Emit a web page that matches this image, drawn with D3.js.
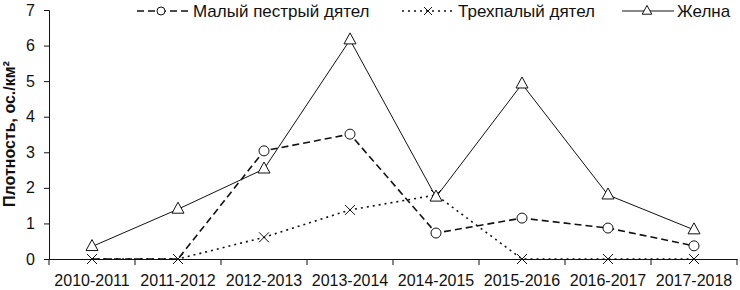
<!DOCTYPE html>
<html>
<head>
<meta charset="utf-8">
<script src="https://cdn.jsdelivr.net/npm/d3@7"></script>
<style>
  body { margin: 0; background: #fff; }
  text { font-family: "Liberation Sans", Arial, sans-serif; fill: #111; }
</style>
</head>
<body>
<script>
'use strict';

// seasons on the x axis
const seasons = ["2010-2011", "2011-2012", "2012-2013", "2013-2014",
                 "2014-2015", "2015-2016", "2016-2017", "2017-2018"];
// density values
const malyi = [0, 0, 3.04, 3.51, 0.73, 1.15, 0.87, 0.37];
const trehpalyi = [0, 0, 0.61, 1.38, 1.8, 0, 0, 0];
const zhelna = [0.35, 1.40, 2.53, 6.16, 1.74, 4.92, 1.80, 0.82];
const yTicks = [0, 1, 2, 3, 4, 5, 6, 7];

const seriesNames = ["Малый пестрый дятел", "Трехпалый дятел", "Желна"];

const width = 740, height = 290;
const margin = {top: 10, right: 3, bottom: 31, left: 49};

const svg = d3.select("body").append("svg")
  .attr("width", width)
  .attr("height", height);

const x = d3.scaleBand()
  .domain(seasons)
  .range([margin.left, width - margin.right])
  .padding(0);

const y = d3.scaleLinear()
  .domain([0, 7])
  .range([height - margin.bottom, margin.top]);

const cx = (d) => x(d) + x.bandwidth() / 2;

// y axis
const yAxis = svg.append("g")
  .attr("transform", "translate(" + margin.left + ",0)")
  .call(d3.axisLeft(y).tickValues(yTicks).tickSize(5).tickPadding(9).tickFormat(d3.format("d")));
yAxis.selectAll("text").style("font-size", "16px");

// x axis: labels centred, ticks on band edges
const xAxis = svg.append("g")
  .attr("transform", "translate(0," + y(0) + ")")
  .call(d3.axisBottom(x).tickSize(0).tickPadding(16));
xAxis.selectAll("text").style("font-size", "16px");

xAxis.selectAll(".edge")
  .data(seasons.map((d) => x(d)).concat([x(seasons[seasons.length - 1]) + x.bandwidth()]))
  .enter().append("line")
  .attr("class", "edge")
  .attr("x1", (d) => d).attr("x2", (d) => d)
  .attr("y1", 0).attr("y2", 6)
  .style("stroke", "#111");

svg.selectAll(".domain, .tick line").style("stroke", "#111");

// y axis title
svg.append("text")
  .attr("transform", "rotate(-90)")
  .attr("x", -134)
  .attr("y", 15)
  .style("text-anchor", "middle")
  .style("font-size", "16px")
  .style("font-weight", "bold")
  .text("Плотность, ос./км²");

const line = d3.line()
  .x((d, i) => cx(seasons[i]))
  .y((d) => y(d));

const styles = [
  {values: malyi, dash: "7,4", sw: 1.6, marker: "circle"},
  {values: trehpalyi, dash: "2,4", sw: 1.6, marker: "cross"},
  {values: zhelna, dash: null, sw: 1, marker: "triangle"}
];

function drawMarker(g, type, px, py, k) {
  k = k || 1;
  if (type === "circle") {
    g.append("circle")
      .attr("cx", px).attr("cy", py).attr("r", 5 * k)
      .style("fill", "#fff").style("stroke", "#111").style("stroke-width", 1);
  } else if (type === "cross") {
    const s = 5 * k;
    g.append("path")
      .attr("d", "M" + (px - s) + "," + (py - s) + "L" + (px + s) + "," + (py + s) +
                 "M" + (px - s) + "," + (py + s) + "L" + (px + s) + "," + (py - s))
      .style("stroke", "#111").style("stroke-width", 1).style("fill", "none");
  } else {
    g.append("path")
      .attr("d", "M" + px + "," + (py - 7 * k) + "L" + (px + 6 * k) + "," + (py + 4 * k) +
                 "L" + (px - 6 * k) + "," + (py + 4 * k) + "Z")
      .style("fill", "#fff").style("stroke", "#111").style("stroke-width", 1);
  }
}

// lines first, then markers on top
styles.forEach((s) => {
  svg.append("path")
    .datum(s.values)
    .attr("d", line)
    .style("fill", "none")
    .style("stroke", "#111")
    .style("stroke-width", s.sw)
    .style("stroke-dasharray", s.dash);
});
styles.forEach((s) => {
  const g = svg.append("g");
  s.values.forEach((v, i) => {
    // zero circles sit under the crosses in the original, so skip them
    if (s.marker === "circle" && v === 0) return;
    drawMarker(g, s.marker, cx(seasons[i]), y(v));
  });
});

// legend
const legendPos = [
  {x1: 137, x2: 190, mx: 161, tx: 193},
  {x1: 402, x2: 454, mx: 428, tx: 458},
  {x1: 622, x2: 674, mx: 647, tx: 677}
];
const legend = svg.append("g").attr("class", "legend");
legendPos.forEach((p, i) => {
  legend.append("line")
    .attr("x1", p.x1).attr("x2", p.x2)
    .attr("y1", 11).attr("y2", 11)
    .style("stroke", "#111")
    .style("stroke-width", styles[i].dash ? 1.3 : 1)
    .style("stroke-dasharray", styles[i].dash);
  drawMarker(legend, styles[i].marker, p.mx, 11, 0.8);
  legend.append("text")
    .attr("x", p.tx)
    .attr("y", 17)
    .style("font-size", "17px")
    .text(seriesNames[i]);
});
</script>
</body>
</html>
